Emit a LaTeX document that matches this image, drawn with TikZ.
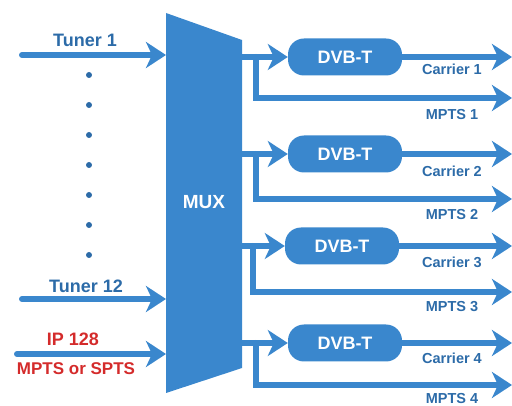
\documentclass[tikz,border=0pt]{standalone}
\usepackage{fontspec}
\setmainfont{Liberation Sans}
\usetikzlibrary{arrows.meta}

\definecolor{muxblue}{HTML}{3A87CD}
\definecolor{txtblue}{HTML}{2C6BA8}
\definecolor{ipred}{HTML}{D42B2B}

\begin{document}
\begin{tikzpicture}[x=1pt,y=-1pt,
    >={Stealth[length=20pt,width=26pt,inset=6pt]},
    feed/.style={draw=muxblue,line width=6pt,line cap=round},
    dvbbox/.style={fill=muxblue,rounded corners=16pt,minimum width=114pt,minimum height=37pt,
      text=white,font=\fontsize{18pt}{20pt}\selectfont\bfseries},
    lbl/.style={text=txtblue,anchor=base,inner sep=0pt,font=\fontsize{18pt}{20pt}\selectfont\bfseries},
    outlbl/.style={text=txtblue,anchor=base,inner sep=0pt,font=\fontsize{14.5pt}{16pt}\selectfont\bfseries},
    redlbl/.style={text=ipred,anchor=base,inner sep=0pt,font=\fontsize{18pt}{20pt}\selectfont\bfseries}]
    \useasboundingbox (0,0) rectangle (512,406);

    % multiplexer
    \fill[muxblue] (166,13) -- (242,40) -- (242,368) -- (166,393) -- cycle;
    \node[anchor=base,text=white,font=\fontsize{19pt}{21pt}\selectfont\bfseries] (mux) at (204,209) {MUX};

    % inputs
    \coordinate (t1) at (22,55);
    \coordinate (m1) at (166,55);
    \coordinate (t12) at (22,299);
    \coordinate (m12) at (166,299);
    \coordinate (ip) at (17,354);
    \coordinate (mip) at (166,354);
    \draw[feed,->] (t1) -- (m1);
    \draw[feed,->] (t12) -- (m12);
    \draw[feed,->] (ip) -- (mip);
    \node[lbl] (t1lbl) at (85,47) {Tuner 1};
    \node[lbl] (t12lbl) at (86,293) {Tuner 12};
    \node[redlbl] (iplbl) at (73,345) {IP 128};
    \node[redlbl,font=\fontsize{17pt}{19pt}\selectfont\bfseries] (iplbl2) at (76,375) {MPTS or SPTS};

    \foreach \y in {75,105,...,255}
      \fill[txtblue] (89,\y) circle (3pt);

    % DVB-T 1
    \node[dvbbox] (dvb1) at (345,57) {DVB-T};
    \coordinate (o1) at (242,57);
    \coordinate (b1) at (256,57);
    \coordinate (c1) at (512,57);
    \coordinate (p1) at (512,98);
    \draw[feed,->] (o1) -- (dvb1.west);
    \draw[feed,->] (b1) |- (p1);
    \draw[feed,->] (dvb1.east) -- (c1);
    \node[outlbl] (car1) at (452,75) {Carrier 1};
    \node[outlbl] (mp1) at (452,120) {MPTS 1};

    % DVB-T 2
    \node[dvbbox] (dvb2) at (345,154) {DVB-T};
    \coordinate (o2) at (242,154);
    \coordinate (b2) at (256,154);
    \coordinate (c2) at (512,154);
    \coordinate (p2) at (512,199);
    \draw[feed,->] (o2) -- (dvb2.west);
    \draw[feed,->] (b2) |- (p2);
    \draw[feed,->] (dvb2.east) -- (c2);
    \node[outlbl] (car2) at (452,177) {Carrier 2};
    \node[outlbl] (mp2) at (452,220) {MPTS 2};

    % DVB-T 3
    \node[dvbbox] (dvb3) at (342,246) {DVB-T};
    \coordinate (o3) at (242,246);
    \coordinate (b3) at (253,246);
    \coordinate (c3) at (512,246);
    \coordinate (p3) at (512,292);
    \draw[feed,->] (o3) -- (dvb3.west);
    \draw[feed,->] (b3) |- (p3);
    \draw[feed,->] (dvb3.east) -- (c3);
    \node[outlbl] (car3) at (452,268) {Carrier 3};
    \node[outlbl] (mp3) at (452,312) {MPTS 3};

    % DVB-T 4
    \node[dvbbox] (dvb4) at (345,343) {DVB-T};
    \coordinate (o4) at (242,343);
    \coordinate (b4) at (256,343);
    \coordinate (c4) at (512,343);
    \coordinate (p4) at (512,385);
    \draw[feed,->] (o4) -- (dvb4.west);
    \draw[feed,->] (b4) |- (p4);
    \draw[feed,->] (dvb4.east) -- (c4);
    \node[outlbl] (car4) at (452,363) {Carrier 4};
    \node[outlbl] (mp4) at (452,403) {MPTS 4};

\end{tikzpicture}
\end{document}
